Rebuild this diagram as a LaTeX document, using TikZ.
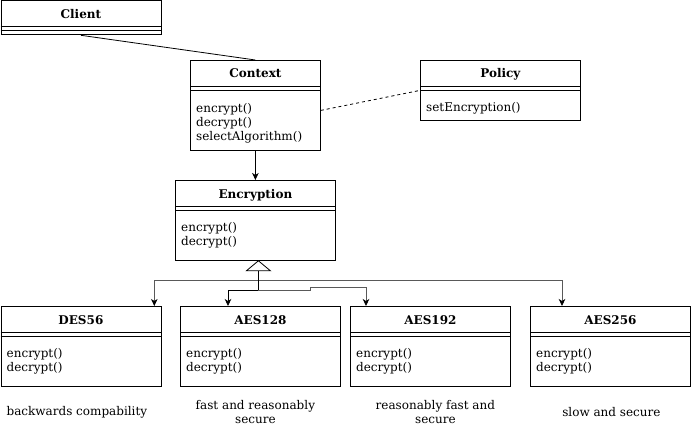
\documentclass[tikz,border=0pt]{standalone}
\usepackage{fontspec}
\setmainfont{DejaVu Serif}
\usetikzlibrary{arrows.meta, positioning, calc}

\begin{document}
\begin{tikzpicture}[x=1pt, y=-1pt,
    box/.style={rectangle, draw=black, line width=0.8pt, inner sep=0pt, anchor=north west},
    sepline/.style={line width=0.8pt},
    title/.style={font=\fontsize{12}{14}\selectfont\bfseries, anchor=base},
    ops/.style={font=\fontsize{12}{14}\selectfont, align=left, anchor=north west, inner sep=0pt},
    note/.style={font=\fontsize{12}{13.5}\selectfont, align=center},
    arrow/.style={-{Stealth[length=7pt, width=6.5pt, inset=2pt, color=black]}, line width=0.8pt},
]

\useasboundingbox (0,0) rectangle (691,425);

% Classes
\node[box, minimum width=160pt, minimum height=34pt] (client) at (0.5,0.5) {};
\node[box, minimum width=130pt, minimum height=90pt] (context) at (190,60) {};
\node[box, minimum width=160pt, minimum height=60pt] (policy) at (420,60) {};
\node[box, minimum width=160pt, minimum height=80pt] (encryption) at (175,180) {};
\node[box, minimum width=160pt, minimum height=80pt] (des56) at (0.5,306) {};
\node[box, minimum width=160pt, minimum height=80pt] (aes128) at (180,306) {};
\node[box, minimum width=160pt, minimum height=80pt] (aes192) at (350,306) {};
\node[box, minimum width=160pt, minimum height=80pt] (aes256) at (530,306) {};

% Titles and separators
\foreach \n/\t in {client/Client, context/Context, policy/Policy, encryption/Encryption,
                   des56/DES56, aes128/AES128, aes192/AES192, aes256/AES256} {
    \node[title] (\n-title) at ([yshift=-18pt]\n.north) {\t};
    \draw[sepline] ([yshift=-26pt]\n.north west) -- ([yshift=-26pt]\n.north east)
                   ([yshift=-30pt]\n.north west) -- ([yshift=-30pt]\n.north east);
}

% Operations
\node[ops] (context-ops) at ([xshift=6pt, yshift=-43pt]context.north west) {encrypt()\\decrypt()\\selectAlgorithm()};
\node[ops] (policy-ops) at ([xshift=6pt, yshift=-42pt]policy.north west) {setEncryption()};
\foreach \n in {encryption, des56, aes128, aes192, aes256} {
    \node[ops] (\n-ops) at ([xshift=6pt, yshift=-42pt]\n.north west) {encrypt()\\decrypt()};
}

% Notes
\node[note] (des56-note) at ([xshift=-4pt, yshift=-25pt]des56.south) {backwards compability};
\node[note] (aes128-note) at ([xshift=-5pt, yshift=-25pt]aes128.south) {fast and reasonably\\secure};
\node[note] (aes192-note) at ([xshift=5pt, yshift=-25pt]aes192.south) {reasonably fast and\\secure};
\node[note] (aes256-note) at ([xshift=1pt, yshift=-25pt]aes256.south) {slow and secure};

% Associations
\draw[line width=0.8pt] (client.south) -- (context.north);
\draw[arrow] (context.south) -- (encryption.north);
\draw[line width=0.8pt, dash pattern=on 3pt off 3pt] ([yshift=-5pt]context.east) -- (policy.west);

% Inheritance
\coordinate (inh) at ([xshift=3pt]encryption.south);
\coordinate (base) at ($(inh)+(0,10)$);
\coordinate (j1) at ($(base)+(0,10)$);
\coordinate (j2) at ($(base)+(0,20)$);
\draw[arrow, draw=black!65] (j1) -| ([xshift=-7pt]des56.north east);
\draw[arrow, draw=black!65] (j1) -| ([xshift=32pt]aes256.north west);
\draw[arrow] (base) -- (j2) -| ([xshift=48pt]aes128.north west);
\draw[arrow, draw=black!65] (j2) -- ++(52,0) -- ++(0,-3) -| ([xshift=16pt]aes192.north west);
\draw[line width=0.8pt, fill=white] (inh) -- ++(-12,10) -- ++(24,0) -- cycle;

\end{tikzpicture}
\end{document}
